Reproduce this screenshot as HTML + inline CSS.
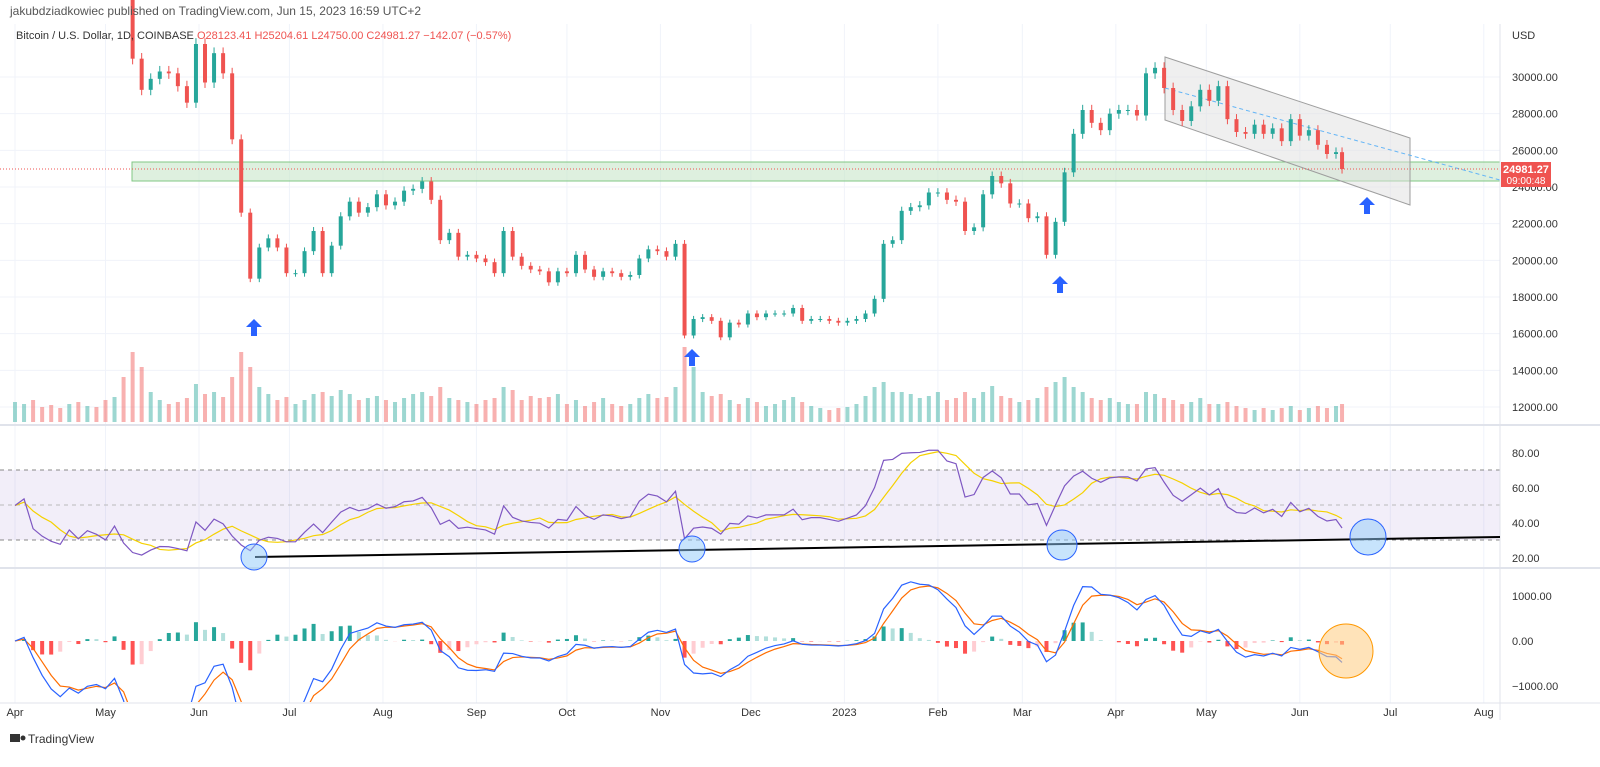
<!DOCTYPE html>
<html><head><meta charset="utf-8"><style>
body{margin:0;background:#fff;font-family:"Liberation Sans",sans-serif;}
svg{display:block}
</style></head><body>
<svg id="c" width="1600" height="767" xmlns="http://www.w3.org/2000/svg">
<defs>
<clipPath id="cpP"><rect x="0" y="0" width="1500" height="424"/></clipPath>
<clipPath id="cpR"><rect x="0" y="427" width="1500" height="140"/></clipPath>
<clipPath id="cpM"><rect x="0" y="570" width="1500" height="132"/></clipPath>
</defs>
<rect width="1600" height="767" fill="#fff"/>
<g id="grid"></g>
<rect x="132" y="162" width="1368" height="19" fill="#c8e6c9" fill-opacity="0.6" stroke="#81c784" stroke-width="1"/>
<polygon points="1165,57 1410,138 1410,205 1165,120" fill="#e0e0e0" fill-opacity="0.5" stroke="#9e9e9e" stroke-width="1"/>
<line x1="1165" y1="88" x2="1500" y2="180" stroke="#64b5f6" stroke-dasharray="4,3"/>
<line x1="0" y1="169" x2="1500" y2="169" stroke="#ef5350" stroke-dasharray="1,2"/>
<g clip-path="url(#cpP)"><g id="vol"></g><g id="candles"></g></g>
<rect x="0" y="470" width="1500" height="70" fill="#7e57c2" fill-opacity="0.1"/>
<g stroke="#888" stroke-dasharray="4,4"><line x1="0" x2="1500" y1="470" y2="470"/><line x1="0" x2="1500" y1="505" y2="505" stroke="#bbb"/><line x1="0" x2="1500" y1="540" y2="540"/></g>
<g id="rsi" clip-path="url(#cpR)"></g><g id="macd" clip-path="url(#cpM)"></g>
<line x1="0" y1="425" x2="1600" y2="425" stroke="#e0e3eb" stroke-width="2"/>
<line x1="0" y1="568" x2="1600" y2="568" stroke="#e0e3eb" stroke-width="2"/>
<line x1="0" y1="703" x2="1600" y2="703" stroke="#e0e3eb"/>
<line x1="1500" y1="24" x2="1500" y2="720" stroke="#e0e3eb"/>
<line x1="255" y1="557" x2="1500" y2="537" stroke="#000" stroke-width="2"/>
<g fill="#90caf9" fill-opacity="0.5" stroke="#2962ff" stroke-width="1">
<circle cx="254" cy="557" r="13"/>
<circle cx="692" cy="549" r="13"/>
<circle cx="1062" cy="545" r="15"/>
<circle cx="1368" cy="537" r="18"/>
</g>
<circle cx="1346" cy="651" r="27" fill="#ffcc80" fill-opacity="0.55" stroke="#ff9800"/>
<g fill="#2962ff">
<path d="M254,319 l-8,8 h5 v9 h6 v-9 h5z"/>
<path d="M692,349 l-8,8 h5 v9 h6 v-9 h5z"/>
<path d="M1060,276 l-8,8 h5 v9 h6 v-9 h5z"/>
<path d="M1367,197 l-8,8 h5 v9 h6 v-9 h5z"/>
</g>
<g id="axis" font-size="11" fill="#333"></g>
<rect x="1501" y="162" width="50" height="25" fill="#ef5350"/>
<text x="1526" y="173" font-size="11" fill="#fff" text-anchor="middle" font-weight="bold">24981.27</text>
<text x="1526" y="184" font-size="10" fill="#fff" text-anchor="middle">09:00:48</text>
<text x="10" y="15" font-size="12" fill="#555">jakubdziadkowiec published on TradingView.com, Jun 15, 2023 16:59 UTC+2</text>
<text x="16" y="39" font-size="11" fill="#333">Bitcoin / U.S. Dollar, 1D, COINBASE <tspan fill="#ef5350"> O28123.41  H25204.61  L24750.00  C24981.27  −142.07 (−0.57%)</tspan></text>
<text x="1512" y="39" font-size="11" fill="#333">USD</text>
<g><rect x="10" y="734" width="10" height="8" fill="#333"/><circle cx="23" cy="738" r="2.5" fill="#333"/><text x="28" y="743" font-size="12" fill="#333">TradingView</text></g>
</svg>
<script>
const closes=[46000,46500,43500,42200,41100,40400,41500,39700,40400,39700,38500,39700,35500,31000,29300,29900,30300,30200,29500,28600,31800,29700,31300,30200,26600,22600,19000,20700,21200,20700,19300,19300,20500,21600,19300,20800,22400,23200,22600,22900,23600,23000,23200,23800,23900,24300,23300,21100,21500,20200,20300,20100,19900,19300,21600,20200,19700,19500,19400,18800,19400,19300,20300,19500,19100,19400,19300,19100,19200,20100,20600,20500,20200,20900,15900,16800,16900,16700,15800,16600,16500,17100,16900,17100,17100,17100,17400,16700,16800,16800,16700,16600,16700,16800,17100,17900,20900,21100,22700,22900,23000,23700,23700,23300,23200,21600,21800,23600,24600,24200,23100,23100,22300,22400,20300,22100,24800,26900,28200,27500,27100,28000,28200,28200,27900,30200,30500,29400,28200,27600,28400,29300,28700,29500,27700,27000,26900,27400,26900,27200,26500,27700,26800,27100,26300,25800,25900,24981];
const volumes=[20,18,22,15,17,14,18,20,16,15,22,25,45,70,55,30,22,18,20,24,38,28,30,25,45,70,55,35,28,22,25,18,22,28,30,26,32,28,22,24,26,22,20,24,28,30,26,35,24,22,20,18,22,24,35,32,22,26,24,25,28,18,22,16,20,24,18,16,18,24,28,24,25,35,75,55,30,26,28,22,18,24,20,16,18,22,25,20,16,14,12,14,15,18,26,35,40,30,30,28,24,26,30,22,24,30,24,30,36,26,24,20,22,24,35,40,45,35,30,24,22,24,20,18,18,30,28,24,22,18,20,24,18,18,20,16,14,12,14,12,14,16,12,14,16,14,16,18];
const months=["Apr","May","Jun","Jul","Aug","Sep","Oct","Nov","Dec","2023","Feb","Mar","Apr","May","Jun","Jul","Aug"];
const monthDays=[0,30,61,91,122,153,183,214,244,275,306,334,365,395,426,456,487];
const priceTicks=[30000,28000,26000,24000,22000,20000,18000,16000,14000,12000];
const rsiTicks=[80,60,40,20];
const macdTicks=[1000,0,-1000];
const NS="http://www.w3.org/2000/svg";
const xDay=d=>15+d*3.016;
const xI=i=>xDay(Math.min(i*3,440));
const yP=p=>77+(30000-p)*0.018333;
const yR=v=>453+(80-v)*1.75;
const yM=v=>641-v*0.045;
function mk(t,a,p){const e=document.createElementNS(NS,t);for(const k in a)e.setAttribute(k,a[k]);p.appendChild(e);return e;}
const grid=document.getElementById('grid'),ax=document.getElementById('axis');
monthDays.forEach((d,i)=>{
 mk('line',{x1:xDay(d),x2:xDay(d),y1:24,y2:703,stroke:'#f0f3fa'},grid);
 const t=mk('text',{x:xDay(d),y:716,'text-anchor':'middle','font-size':11,fill:'#333'},ax);t.textContent=months[i];
 
 
});
priceTicks.forEach(p=>{mk('line',{x1:0,x2:1500,y1:yP(p),y2:yP(p),stroke:'#f0f3fa'},grid);
 const t=mk('text',{x:1512,y:yP(p)+4},ax);t.textContent=p.toFixed(2);
 
 });
rsiTicks.forEach(v=>{const t=mk('text',{x:1512,y:yR(v)+4},ax);t.textContent=v.toFixed(2);
 
 });
macdTicks.forEach(v=>{const t=mk('text',{x:1512,y:yM(v)+4},ax);t.textContent=(v<0?'−':'')+Math.abs(v).toFixed(2);
 
 });
const cg=document.getElementById('candles'),vg=document.getElementById('vol');
closes.forEach((c,i)=>{
 const o=i?closes[i-1]:c;const up=c>=o;const col=up?'#26a69a':'#ef5350';const x=xI(i);
 const hi=Math.max(o,c)*1.01,lo=Math.min(o,c)*0.99;
 mk('line',{x1:x,x2:x,y1:yP(hi),y2:yP(lo),stroke:col},cg);
 const b=mk('rect',{x:x-2,y:Math.min(yP(o),yP(c)),width:4,height:Math.max(1,Math.abs(yP(o)-yP(c))),fill:col},cg);
 
 
 const v=mk('rect',{x:x-2,y:422-volumes[i],width:4,height:volumes[i],fill:col,'fill-opacity':0.45},vg);
 
 
});
// RSI
const rg=document.getElementById('rsi');const rsi=[];let ag=300,al=300;const N=9;
closes.forEach((c,i)=>{if(!i){rsi.push(50);return;}const d=c-closes[i-1];const g=Math.max(d,0),l=Math.max(-d,0);
 ag=(ag*(N-1)+g)/N;al=(al*(N-1)+l)/N;const r=al===0?100:100-100/(1+ag/al);rsi.push(50+(r-50)*0.8);});
const rma=rsi.map((v,i)=>{const s=rsi.slice(Math.max(0,i-4),i+1);return s.reduce((a,b)=>a+b,0)/s.length;});
const pl=(arr,f,col,name,par)=>{const e=mk('polyline',{points:arr.map((v,i)=>xI(i)+','+f(v)).join(' '),fill:'none',stroke:col,'stroke-width':1.2},par);
 
 };
pl(rma,yR,'#f5d100','rsi-ma-line',rg);pl(rsi,yR,'#7e57c2','rsi-line',rg);
// MACD
const mg=document.getElementById('macd');
const ema=(a,n)=>{const k=2/(n+1);let e=a[0];return a.map(v=>e=v*k+e*(1-k));};
const f=ema(closes,4),s=ema(closes,9);const macd=f.map((v,i)=>(v-s[i])*0.8);const sig=ema(macd,3);
macd.forEach((m,i)=>{const h=m-sig[i];const ph=i?macd[i-1]-sig[i-1]:0;
 const col=h>=0?(h>=ph?'#26a69a':'#b2dfdb'):(h<ph?'#ff5252':'#ffcdd2');
 const r=mk('rect',{x:xI(i)-2,y:Math.min(yM(h),yM(0)),width:4,height:Math.abs(yM(h)-yM(0)),fill:col},mg);
 
 });
pl(sig,yM,'#ff6d00','macd-signal-line',mg);pl(macd,yM,'#2962ff','macd-line',mg);
</script>
</body></html>
